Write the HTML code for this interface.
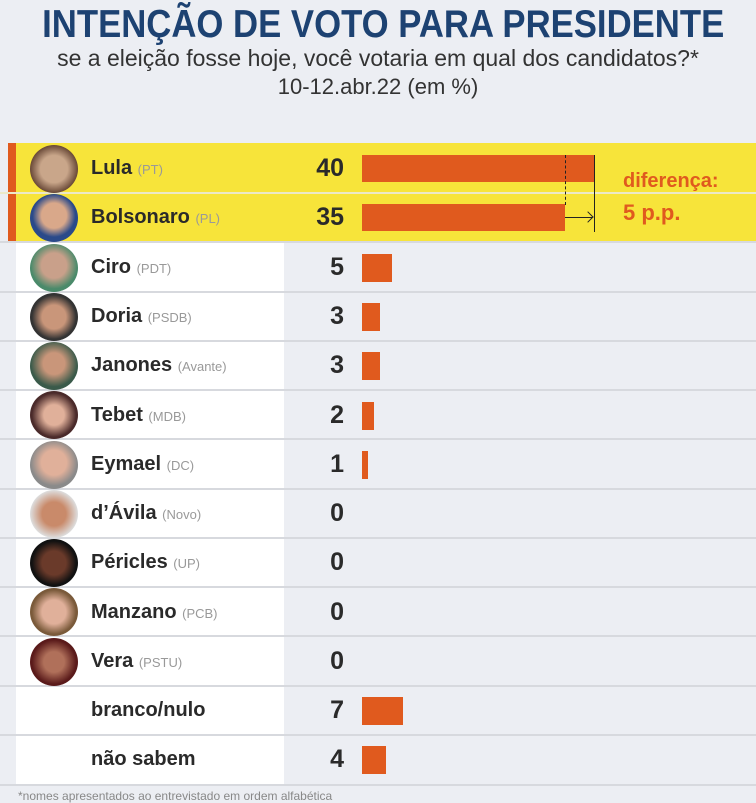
<!DOCTYPE html>
<html><head><meta charset="utf-8"><style>
*{margin:0;padding:0;box-sizing:border-box}
body{width:756px;height:800px;background:#eceef3;position:relative;overflow:hidden;font-family:"Liberation Sans",sans-serif}
.a{position:absolute}
.t{left:0;width:756px;text-align:center;top:3px;white-space:nowrap}
.t span{display:inline-block;color:#1d4272;font-weight:bold;font-size:39px;transform:scaleX(0.89);transform-origin:center}
.s{left:0;width:756px;text-align:center;color:#333;font-size:22px;white-space:nowrap}
.nm{left:91px;font-weight:bold;font-size:20px;color:#2a2a2a;white-space:nowrap}
.nm span{font-weight:normal;font-size:13px;color:#999}
.nu{width:60px;left:284px;text-align:right;font-weight:bold;font-size:25px;color:#2a2a2a}
.b{background:#e05a1e;left:362px}
.ln{left:0;width:756px;height:2px;background:#d7d9de}
.av{left:30px;width:48px;height:48px;border-radius:50%}
</style></head><body>
<div class="a t"><span>INTENÇÃO DE VOTO PARA PRESIDENTE</span></div>
<div class="a s" style="top:45px;font-size:23px">se a eleição fosse hoje, você votaria em qual dos candidatos?*</div>
<div class="a s" style="top:74px">10-12.abr.22 (em %)</div>

<div class="a" style="left:16px;top:143px;width:268px;height:643px;background:#fff"></div>
<div class="a" style="left:8px;top:143px;width:748px;height:99px;background:#f7e43a"></div>
<div class="a" style="left:8px;top:143px;width:8px;height:99px;background:#e05a1e"></div>

<div class="a ln" style="top:192px;background:#ece9c8"></div>
<div class="a ln" style="top:241px"></div>
<div class="a ln" style="top:291px"></div>
<div class="a ln" style="top:340px"></div>
<div class="a ln" style="top:389px"></div>
<div class="a ln" style="top:438px"></div>
<div class="a ln" style="top:488px"></div>
<div class="a ln" style="top:537px"></div>
<div class="a ln" style="top:586px"></div>
<div class="a ln" style="top:635px"></div>
<div class="a ln" style="top:685px"></div>
<div class="a ln" style="top:734px"></div>
<div class="a ln" style="top:784px"></div>

<div class="a av" style="top:145px;background:radial-gradient(circle at 50% 50%,#c9a68a 40%,#5a3a2a 75%)"></div>
<div class="a av" style="top:194px;background:radial-gradient(circle at 50% 45%,#d9a88a 35%,#2a4a8a 60%)"></div>
<div class="a av" style="top:244px;background:radial-gradient(circle at 50% 45%,#c9a08a 35%,#4a8a6a 65%)"></div>
<div class="a av" style="top:293px;background:radial-gradient(circle at 50% 50%,#c9967a 35%,#333 65%)"></div>
<div class="a av" style="top:342px;background:radial-gradient(circle at 50% 45%,#c9967a 30%,#3a5a4a 65%)"></div>
<div class="a av" style="top:391px;background:radial-gradient(circle at 50% 50%,#e0b09a 30%,#4a2a2a 65%)"></div>
<div class="a av" style="top:441px;background:radial-gradient(circle at 50% 45%,#e0b09a 35%,#8a8a8a 65%)"></div>
<div class="a av" style="top:490px;background:radial-gradient(circle at 50% 50%,#c98a6a 35%,#ddd 70%)"></div>
<div class="a av" style="top:539px;background:radial-gradient(circle at 50% 50%,#6a3a2a 35%,#111 65%)"></div>
<div class="a av" style="top:588px;background:radial-gradient(circle at 50% 50%,#e0b09a 35%,#7a5a3a 65%)"></div>
<div class="a av" style="top:638px;background:radial-gradient(circle at 50% 50%,#b0705a 30%,#5a1a1a 65%)"></div>

<div class="a nm" style="top:157px">Lula <span>(PT)</span></div>
<div class="a nm" style="top:206px">Bolsonaro <span>(PL)</span></div>
<div class="a nm" style="top:256px">Ciro <span>(PDT)</span></div>
<div class="a nm" style="top:305px">Doria <span>(PSDB)</span></div>
<div class="a nm" style="top:354px">Janones <span>(Avante)</span></div>
<div class="a nm" style="top:404px">Tebet <span>(MDB)</span></div>
<div class="a nm" style="top:453px">Eymael <span>(DC)</span></div>
<div class="a nm" style="top:502px">d’Ávila <span>(Novo)</span></div>
<div class="a nm" style="top:551px">Péricles <span>(UP)</span></div>
<div class="a nm" style="top:601px">Manzano <span>(PCB)</span></div>
<div class="a nm" style="top:650px">Vera <span>(PSTU)</span></div>
<div class="a nm" style="top:699px">branco/nulo</div>
<div class="a nm" style="top:748px">não sabem</div>

<div class="a nu" style="top:154px">40</div>
<div class="a nu" style="top:203px">35</div>
<div class="a nu" style="top:253px">5</div>
<div class="a nu" style="top:302px">3</div>
<div class="a nu" style="top:351px">3</div>
<div class="a nu" style="top:401px">2</div>
<div class="a nu" style="top:450px">1</div>
<div class="a nu" style="top:499px">0</div>
<div class="a nu" style="top:548px">0</div>
<div class="a nu" style="top:598px">0</div>
<div class="a nu" style="top:647px">0</div>
<div class="a nu" style="top:696px">7</div>
<div class="a nu" style="top:745px">4</div>

<div class="a b" style="top:155px;width:232px;height:27px"></div>
<div class="a b" style="top:204px;width:203px;height:27px"></div>
<div class="a b" style="top:254px;width:30px;height:28px"></div>
<div class="a b" style="top:303px;width:18px;height:28px"></div>
<div class="a b" style="top:352px;width:18px;height:28px"></div>
<div class="a b" style="top:402px;width:12px;height:28px"></div>
<div class="a b" style="top:451px;width:6px;height:28px"></div>
<div class="a b" style="top:697px;width:41px;height:28px"></div>
<div class="a b" style="top:746px;width:24px;height:28px"></div>

<div class="a" style="left:565px;top:155px;height:50px;border-left:1px dashed #222"></div>
<div class="a" style="left:594px;top:155px;width:1px;height:77px;background:#222"></div>
<div class="a" style="left:565px;top:217px;width:27px;height:1px;background:#222"></div>
<div class="a" style="left:584px;top:213px;width:8px;height:8px;border-top:1px solid #222;border-right:1px solid #222;transform:rotate(45deg)"></div>
<div class="a" style="left:623px;top:166px;color:#e05a1e;font-weight:bold;font-size:20px;line-height:31px">diferença:<br><span style="font-size:22px">5 p.p.</span></div>

<div class="a" style="left:18px;top:789px;font-size:12px;color:#888">*nomes apresentados ao entrevistado em ordem alfabética</div>
</body></html>
